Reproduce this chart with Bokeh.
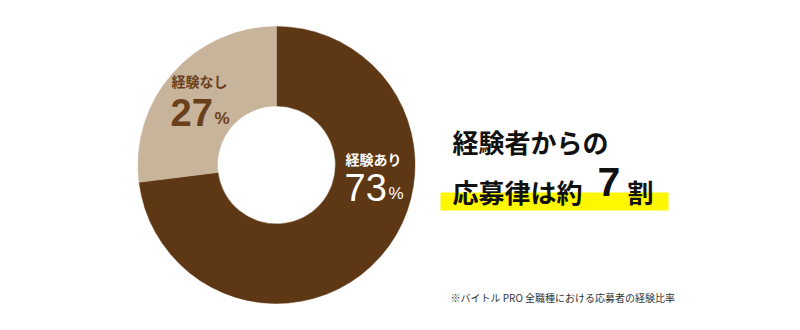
from math import pi

from bokeh.core.properties import value
from bokeh.embed import file_html
from bokeh.models import ColumnDataSource, Range1d
from bokeh.plotting import figure
from bokeh.resources import INLINE

# Share of applicants with / without prior experience (percent)
categories = ["経験あり", "経験なし"]
shares = [73, 27]
slice_colors = ["#5e3714", "#c8b39b"]
label_colors = ["#ffffff", "#6a3f1b"]

headline_1 = "経験者からの"
headline_2a = "応募律は約"
headline_2b = "7"
headline_2c = "割"
footnote = "※バイトル PRO 全職種における応募者の経験比率"

W, H = 800, 330
CJK = value("Noto Sans CJK JP")
NUM = value("Liberation Sans")


def py(y):
    """Convert a top-down pixel row into the plot's bottom-up y coordinate."""
    return H - y


p = figure(width=W, height=H, output_backend="svg", toolbar_location=None,
           x_range=Range1d(0, W), y_range=Range1d(0, H), min_border=0,
           outline_line_color=None, background_fill_color="white",
           border_fill_color="white")
p.axis.visible = False
p.grid.visible = False

# Donut: slices run clockwise from 12 o'clock
cx, cy = 276, py(164.5)
starts, ends = [], []
acc = 0.0
total = float(sum(shares))
for s in shares:
    starts.append(pi / 2 - 2 * pi * acc / total)
    acc += s
    ends.append(pi / 2 - 2 * pi * acc / total)

src = ColumnDataSource(dict(cat=categories, share=shares, start=starts,
                            end=ends, color=slice_colors))
p.annular_wedge(x=cx, y=cy, inner_radius=59, outer_radius=138.5,
                start_angle="start", end_angle="end", direction="clock",
                fill_color="color", line_color="color", line_width=0.5,
                source=src)

# Slice labels: name, value and a smaller percent sign
label_pos = {"経験あり": (345, 158, 187), "経験なし": (171, 80, 112)}
for cat, share, col in zip(categories, shares, label_colors):
    lx, ny, vy = label_pos[cat]
    weight = "normal" if col == "#ffffff" else "bold"
    p.text(x=[lx], y=[py(ny)], text=[cat], text_font=CJK,
           text_font_style="bold", text_font_size="14px", text_color=col,
           text_align="left", text_baseline="middle")
    p.text(x=[lx - 1], y=[py(vy)], text=[str(share)], text_font=NUM,
           text_font_style=weight, text_font_size="38px", text_color=col,
           text_align="left", text_baseline="middle")
    p.text(x=[lx + 43], y=[py(vy + 6)], text=["%"], text_font=NUM,
           text_font_style=weight, text_font_size="17px", text_color=col,
           text_align="left", text_baseline="middle")

# Highlight bar under the second headline line
p.quad(left=[440], right=[668], bottom=[py(210)], top=[py(192)],
       fill_color="#fff700", line_color=None)

p.text(x=[452], y=[py(141)], text=[headline_1], text_font=CJK,
       text_font_style="bold", text_font_size="26px", text_color="#111111",
       text_align="left", text_baseline="middle")
p.text(x=[452], y=[py(191)], text=[headline_2a], text_font=CJK,
       text_font_style="bold", text_font_size="26px", text_color="#111111",
       text_align="left", text_baseline="middle")
p.text(x=[597], y=[py(181)], text=[headline_2b], text_font=NUM,
       text_font_style="bold", text_font_size="41px",
       text_color="#111111", text_align="left", text_baseline="middle")
p.text(x=[627], y=[py(191)], text=[headline_2c], text_font=CJK,
       text_font_style="bold", text_font_size="26px", text_color="#111111",
       text_align="left", text_baseline="middle")

p.text(x=[450], y=[py(297)], text=[footnote], text_font=CJK,
       text_font_size="10px", text_color="#333333",
       text_align="left", text_baseline="middle")

open("out.html", "w").write(file_html(p, INLINE))
